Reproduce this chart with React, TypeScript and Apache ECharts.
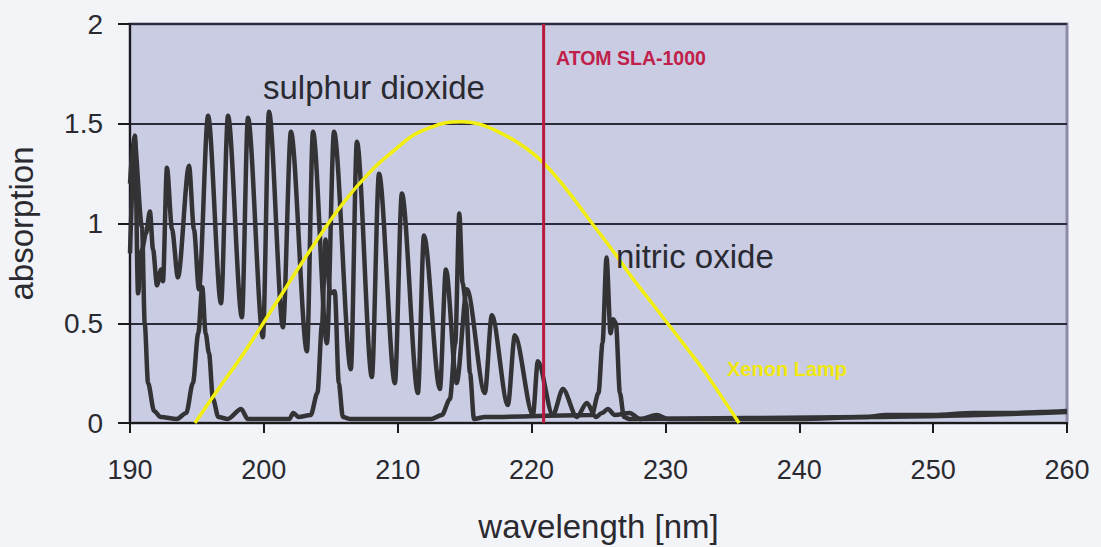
import React, { useEffect, useRef } from "react";
import * as echarts from "echarts";

// wavelength [nm], absorption
const so2Wavelength = [190.0, 190.37, 190.6, 190.9, 191.19, 191.49, 191.72, 192.02, 192.32, 192.46, 192.76, 193.14, 193.58, 194.41, 194.78, 195.15, 195.83, 196.8, 197.32, 198.36, 198.81, 199.93, 200.38, 201.43, 202.02, 203.22, 203.67, 204.71, 205.24, 206.5, 206.95, 208.07, 208.6, 209.79, 210.31, 211.51, 211.96, 213.15, 213.6, 214.4, 215.17, 216.51, 217.03, 218.23, 218.75, 220.1, 220.47, 221.59, 222.34, 223.38, 224.13, 224.8, 225.25, 225.7, 226.22, 227.34, 228.09, 229.36, 230.18, 235.0, 240.0, 245.0, 246.5, 250.0, 253.0, 256.0, 258.0, 260.0];
const so2Absorption = [0.85, 1.44, 0.65, 0.87, 0.95, 1.06, 0.87, 0.69, 0.77, 0.71, 1.28, 0.97, 0.73, 1.29, 0.97, 0.67, 1.54, 0.6, 1.54, 0.53, 1.53, 0.43, 1.56, 0.48, 1.46, 0.36, 1.46, 0.4, 1.46, 0.27, 1.41, 0.23, 1.25, 0.2, 1.15, 0.15, 0.94, 0.17, 0.77, 0.2, 0.67, 0.15, 0.54, 0.09, 0.44, 0.04, 0.31, 0.04, 0.17, 0.03, 0.1, 0.03, 0.05, 0.07, 0.04, 0.05, 0.02, 0.04, 0.02, 0.02, 0.02, 0.03, 0.04, 0.04, 0.05, 0.05, 0.055, 0.06];

const noWavelength = [190.0, 190.3, 190.9, 191.1, 191.35, 191.8, 192.3, 193.5, 194.2, 194.7, 195.1, 195.4, 195.65, 195.9, 196.2, 196.6, 197.3, 198.3, 198.8, 201.9, 202.2, 202.6, 203.5, 204.0, 204.35, 204.6, 204.95, 205.3, 205.6, 205.9, 206.5, 212.5, 213.3, 213.9, 214.3, 214.6, 214.85, 215.1, 215.4, 215.7, 216.5, 224.5, 225.0, 225.3, 225.6, 225.9, 226.1, 226.3, 226.6, 226.9, 227.3, 245.0, 260.0];
const noAbsorption = [1.2, 1.44, 0.98, 0.5, 0.2, 0.06, 0.03, 0.02, 0.05, 0.2, 0.45, 0.68, 0.45, 0.35, 0.12, 0.03, 0.02, 0.07, 0.02, 0.02, 0.05, 0.03, 0.04, 0.15, 0.5, 0.92, 0.65, 0.66, 0.2, 0.03, 0.02, 0.02, 0.04, 0.12, 0.4, 1.05, 0.7, 0.6, 0.25, 0.02, 0.03, 0.04, 0.15, 0.4, 0.83, 0.45, 0.52, 0.5, 0.15, 0.03, 0.02, 0.03, 0.055];

const xenonWavelength = [194.85, 196.6, 198.5, 200.9, 203.4, 205.9, 208.1, 209.8, 211.1, 212.4, 213.6, 214.8, 216.0, 217.2, 219.1, 220.8, 222.5, 224.3, 226.0, 227.5, 229.0, 230.5, 232.0, 233.0, 235.5];
const xenonIntensity = [0, 0.17, 0.35, 0.6, 0.86, 1.1, 1.27, 1.37, 1.44, 1.48, 1.505, 1.51, 1.5, 1.47, 1.4, 1.31, 1.18, 1.02, 0.87, 0.73, 0.6, 0.47, 0.34, 0.25, 0];

const atomLineWavelength = 220.9;

const xTicks = { min: 190, max: 260, interval: 10 };
const yTicks = { min: 0, max: 2, interval: 0.5 };

const pairs = (xs: number[], ys: number[]) => xs.map((x, i) => [x, ys[i]]);

export default function App() {
  const ref = useRef<HTMLDivElement>(null);
  useEffect(() => {
    document.body.style.margin = "0";
    document.body.style.background = "#f3f4f8";
    const chart = echarts.init(ref.current!, undefined, { renderer: "svg" });
    const font = "'Liberation Sans', Arial, sans-serif";
    chart.setOption({
      animation: false,
      backgroundColor: "#f3f4f8",
      grid: {
        left: 130,
        right: 34,
        top: 24,
        bottom: 124,
        show: true,
        backgroundColor: "#c9cce2",
        borderColor: "#8c8ca6",
        borderWidth: 3,
        containLabel: false,
        outerBoundsMode: "none",
      },
      xAxis: {
        type: "value",
        min: xTicks.min,
        max: xTicks.max,
        interval: xTicks.interval,
        name: "wavelength [nm]",
        nameLocation: "middle",
        nameGap: 87,
        nameTextStyle: { fontSize: 33, color: "#2a2a30", fontFamily: font },
        axisLine: { show: true, lineStyle: { color: "#1a1a1a", width: 2 } },
        axisTick: { show: true, length: 10, lineStyle: { color: "#1a1a1a", width: 2 } },
        axisLabel: { fontSize: 27, color: "#2a2a30", fontFamily: font, margin: 33 },
        splitLine: { show: false },
      },
      yAxis: {
        type: "value",
        min: yTicks.min,
        max: yTicks.max,
        interval: yTicks.interval,
        name: "absorption",
        nameLocation: "middle",
        nameGap: 92,
        nameTextStyle: { fontSize: 33, color: "#2a2a30", fontFamily: font },
        axisLine: { show: true, lineStyle: { color: "#1a1a1a", width: 2 } },
        axisTick: { show: true, length: 12, lineStyle: { color: "#1a1a1a", width: 2 } },
        axisLabel: { fontSize: 28, color: "#2a2a30", fontFamily: font, margin: 27 },
        splitLine: { show: true, lineStyle: { color: "#2a2a3a", width: 2 } },
      },
      series: [
        {
          name: "sulphur dioxide",
          type: "line",
          data: pairs(so2Wavelength, so2Absorption),
          showSymbol: false,
          smooth: 0.3,
          smoothMonotone: "x",
          lineStyle: { color: "#333336", width: 4.5 },
          z: 3,
        },
        {
          name: "nitric oxide",
          type: "line",
          data: pairs(noWavelength, noAbsorption),
          showSymbol: false,
          smooth: 0.3,
          smoothMonotone: "x",
          lineStyle: { color: "#333336", width: 4.5 },
          z: 3,
        },
        {
          name: "Xenon Lamp",
          type: "line",
          data: pairs(xenonWavelength, xenonIntensity),
          showSymbol: false,
          smooth: 0.4,
          lineStyle: { color: "#f2ee10", width: 3.5 },
          z: 4,
        },
        {
          name: "ATOM SLA-1000",
          type: "line",
          data: [
            [atomLineWavelength, yTicks.min],
            [atomLineWavelength, yTicks.max],
          ],
          showSymbol: false,
          lineStyle: { color: "#b81a40", width: 3 },
          z: 5,
        },
      ],
      graphic: [
        {
          type: "text",
          x: 263,
          y: 87,
          style: { text: "sulphur dioxide", fontSize: 33, fill: "#2a2a32", fontFamily: font, verticalAlign: "middle" },
          z: 10,
        },
        {
          type: "text",
          x: 616,
          y: 256,
          style: { text: "nitric oxide", fontSize: 33, fill: "#2a2a32", fontFamily: font, verticalAlign: "middle" },
          z: 10,
        },
        {
          type: "text",
          x: 556,
          y: 58,
          style: { text: "ATOM SLA-1000", fontSize: 19.5, fontWeight: "bold", fill: "#c0204a", fontFamily: font, verticalAlign: "middle" },
          z: 10,
        },
        {
          type: "text",
          x: 727,
          y: 369,
          style: { text: "Xenon Lamp", fontSize: 20, fontWeight: "bold", fill: "#f0e810", fontFamily: font, verticalAlign: "middle" },
          z: 10,
        },
      ],
    });
    return () => chart.dispose();
  }, []);
  return <div ref={ref} style={{ width: 1101, height: 547 }} />;
}
